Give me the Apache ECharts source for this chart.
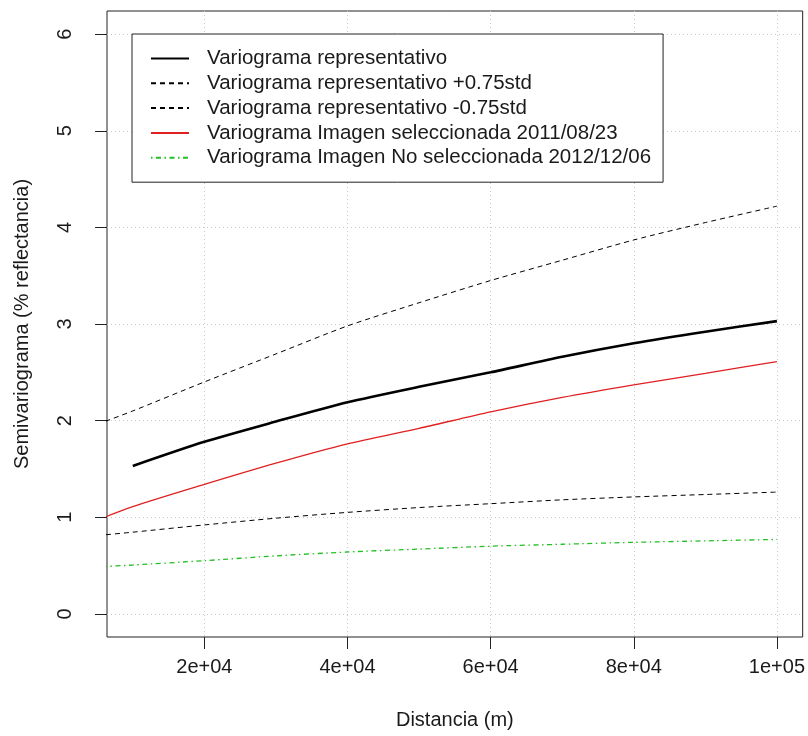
<!DOCTYPE html>
<html>
<head>
<meta charset="utf-8">
<script src="https://cdn.jsdelivr.net/npm/echarts@6/dist/echarts.min.js"></script>
<style>
  html, body { margin: 0; padding: 0; background: #ffffff; }
  #chart { width: 808px; height: 736px; }
</style>
</head>
<body>
<div id="chart"></div>
<script>
// Lag distance (m) at which each variogram is sampled
const distances = [5000, 10000, 20000, 30000, 40000, 50000, 60000, 70000, 80000, 90000, 100000];

// Semivariogram values (% reflectancia)
const representativo      = [null, 1.53, 1.78, 1.99, 2.19, 2.35, 2.50, 2.66, 2.80, 2.92, 3.03];
const representativoMas   = [1.96, 2.10, 2.40, 2.69, 2.98, 3.22, 3.45, 3.66, 3.87, 4.05, 4.22];
const representativoMenos = [0.81, 0.845, 0.92, 0.99, 1.05, 1.10, 1.14, 1.18, 1.21, 1.235, 1.26];
const seleccionada        = [0.97, 1.11, 1.34, 1.56, 1.76, 1.92, 2.09, 2.24, 2.37, 2.49, 2.61];
const noSeleccionada      = [0.485, 0.505, 0.55, 0.60, 0.64, 0.67, 0.70, 0.72, 0.74, 0.755, 0.77];

// Axis ticks and their labels
const xTicks = [20000, 40000, 60000, 80000, 100000];
const xTickLabels = ['2e+04', '4e+04', '6e+04', '8e+04', '1e+05'];
const yTicks = [0, 1, 2, 3, 4, 5, 6];

const FONT = "'Liberation Sans', Arial, sans-serif";
const INK = '#1a1a1a';

function pairs(values) {
  return distances.map((d, i) => [d, values[i]]);
}

const gridLine = { show: true, lineStyle: { color: '#c8c8c8', width: 1, type: [1, 3] } };

function lineSeries(name, values, color, width, dash, z) {
  return {
    name, type: 'line', data: pairs(values),
    symbol: 'none', showSymbol: false, smooth: 0.25, z,
    itemStyle: { color },
    lineStyle: { color, width, type: dash }
  };
}

const chart = echarts.init(document.getElementById('chart'), null, { renderer: 'canvas' });

chart.setOption({
  animation: false,
  backgroundColor: '#ffffff',
  textStyle: { fontFamily: FONT, color: INK },
  grid: {
    left: 107, right: 3, top: 11, bottom: 99,
    show: true, borderColor: '#222', borderWidth: 1, backgroundColor: 'transparent'
  },
  legend: {
    orient: 'vertical',
    left: 132, top: 34,
    padding: [14, 12, 14, 18],
    backgroundColor: '#ffffff',
    borderColor: '#222', borderWidth: 1, borderRadius: 0,
    itemWidth: 38, itemHeight: 14, itemGap: 3.8,
    itemStyle: { opacity: 0, borderWidth: 0 },
    textStyle: { fontFamily: FONT, fontSize: 20.5, color: INK, padding: [0, 0, 0, 13] },
    selectedMode: false,
    data: [
      'Variograma representativo',
      'Variograma representativo +0.75std',
      'Variograma representativo -0.75std',
      'Variograma Imagen seleccionada 2011/08/23',
      'Variograma Imagen No seleccionada 2012/12/06'
    ]
  },
  xAxis: {
    type: 'value',
    min: 6400, max: 103600,
    name: 'Distancia (m)',
    nameLocation: 'middle', nameGap: 73,
    nameTextStyle: { fontFamily: FONT, fontSize: 20, color: INK },
    axisLine: { show: false, onZero: false },
    axisTick: { show: true, inside: false, length: 12, customValues: xTicks,
                lineStyle: { color: '#222', width: 1 } },
    axisLabel: { customValues: xTicks, margin: 20, fontFamily: FONT, fontSize: 20, color: INK,
                 formatter: v => xTickLabels[xTicks.indexOf(v)] },
    splitLine: gridLine
  },
  yAxis: {
    type: 'value',
    min: -0.24, max: 6.24,
    name: 'Semivariograma (% reflectancia)',
    nameLocation: 'middle', nameGap: 75,
    nameTextStyle: { fontFamily: FONT, fontSize: 20, color: INK },
    axisLine: { show: false, onZero: false },
    axisTick: { show: true, inside: false, length: 12, customValues: yTicks,
                lineStyle: { color: '#222', width: 1 } },
    axisLabel: { customValues: yTicks, rotate: 90, margin: 32, fontFamily: FONT, fontSize: 20, color: INK },
    splitLine: gridLine
  },
  series: [
    lineSeries('Variograma representativo', representativo, '#000000', 2.6, 'solid', 5),
    lineSeries('Variograma representativo +0.75std', representativoMas, '#000000', 1, [5, 4], 4),
    lineSeries('Variograma representativo -0.75std', representativoMenos, '#000000', 1, [5, 4], 4),
    lineSeries('Variograma Imagen seleccionada 2011/08/23', seleccionada, '#e02020', 1.3, 'solid', 4),
    lineSeries('Variograma Imagen No seleccionada 2012/12/06', noSeleccionada, '#22c022', 1.3, [1.5, 3.5, 5, 3.5], 4)
  ]
});
</script>
</body>
</html>
